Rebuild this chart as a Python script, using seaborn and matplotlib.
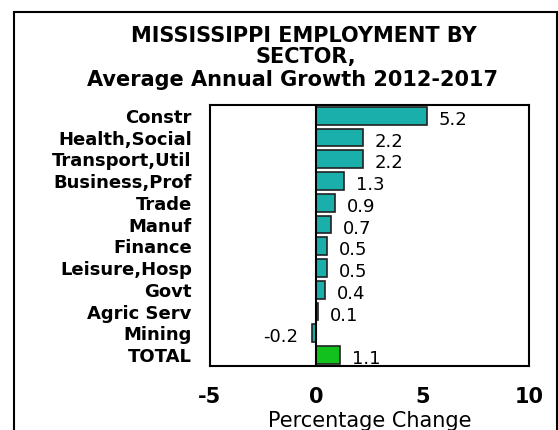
import matplotlib
matplotlib.use("Agg")
import matplotlib.pyplot as plt
import seaborn as sns
import pandas as pd

# data
sectors = ["Constr", "Health,Social", "Transport,Util", "Business,Prof", "Trade",
           "Manuf", "Finance", "Leisure,Hosp", "Govt", "Agric Serv", "Mining", "TOTAL"]
growth = [5.2, 2.2, 2.2, 1.3, 0.9, 0.7, 0.5, 0.5, 0.4, 0.1, -0.2, 1.1]
bar_colors = ["#1AAFAA"] * 11 + ["#12C11E"]
xticks = [-5, 0, 5, 10]

sns.set_style("white")
plt.rcParams['font.family'] = ['DejaVu Sans']
plt.rcParams['text.color'] = 'black'
plt.rcParams['xtick.color'] = 'black'
plt.rcParams['ytick.color'] = 'black'
plt.rcParams['axes.labelcolor'] = 'black'

df = pd.DataFrame({"sector": sectors, "growth": growth})

fig = plt.figure(figsize=(5.58, 4.30), dpi=100)
ax = fig.add_axes([0.376, 0.149, 0.572, 0.607])

sns.barplot(data=df, x="growth", y="sector", hue="sector", palette=bar_colors,
            legend=False, orient="h", width=0.82, edgecolor="#222222",
            linewidth=1.2, saturation=1, ax=ax)

ax.set_xlim(-5, 10)
ax.set_xticks(xticks)
ax.set_xticklabels([str(t) for t in xticks], fontsize=15, fontweight="bold")
ax.tick_params(axis="x", length=0, pad=15)
ax.tick_params(axis="y", length=0, pad=13)
for lab in ax.get_yticklabels():
    lab.set_fontweight("bold")
    lab.set_fontsize(13)
ax.set_ylabel("")
ax.set_xlabel("Percentage Change", fontsize=15, labelpad=3)
ax.axvline(0, color="black", lw=1.5)
for s in ax.spines.values():
    s.set_visible(True)
    s.set_color("black")
    s.set_linewidth(1.5)

# value labels
for i, v in enumerate(growth):
    if v >= 0:
        ax.annotate(f"{v:.1f}", (v, i), xytext=(12, -4), textcoords="offset pixels",
                    ha="left", va="center", fontsize=13)
    else:
        ax.annotate(f"{v:.1f}", (v, i), xytext=(-14, -4), textcoords="offset pixels",
                    ha="right", va="center", fontsize=13)

fig.text(0.545, 0.916, "MISSISSIPPI EMPLOYMENT BY", ha="center", va="center",
         fontsize=15, fontweight="bold")
fig.text(0.548, 0.868, "SECTOR,", ha="center", va="center",
         fontsize=15, fontweight="bold")
fig.text(0.525, 0.814, "Average Annual Growth 2012-2017", ha="center", va="center",
         fontsize=15, fontweight="bold")

# outer frame
frame = plt.Rectangle((0.025, -0.1), 0.973, 1.072, transform=fig.transFigure,
                      fill=False, edgecolor="black", lw=1.5)
fig.patches.append(frame)

fig.savefig("out.png", dpi=100)
